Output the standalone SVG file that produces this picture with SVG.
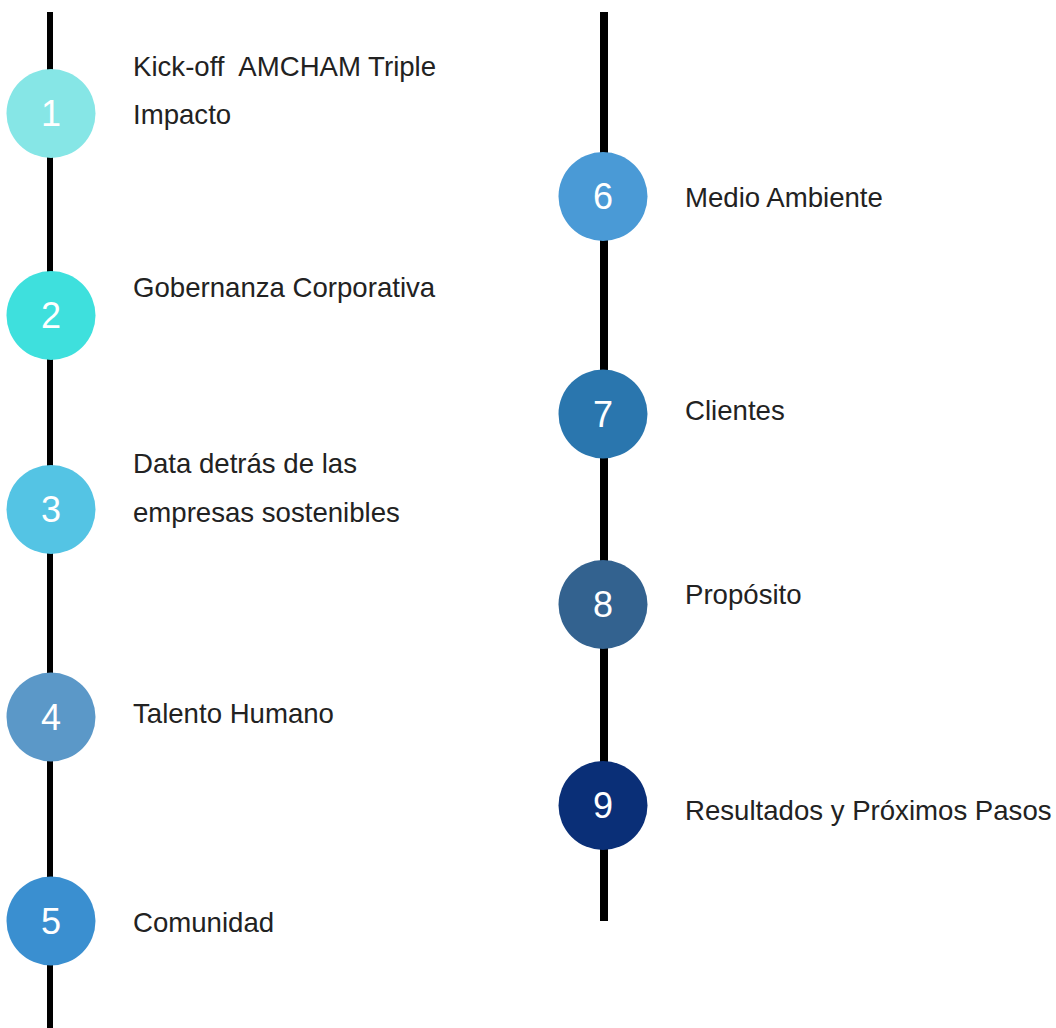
<svg xmlns="http://www.w3.org/2000/svg" width="1056" height="1028" viewBox="0 0 1056 1028">
<style>
.line{stroke:#000;fill:none}
.num{font-family:"Liberation Sans",Arial,sans-serif;font-size:36px;fill:#fff;text-anchor:middle}
.lbl{font-family:"Liberation Sans",Arial,sans-serif;font-size:27.6px;fill:#222;white-space:pre}
</style>
<rect width="1056" height="1028" fill="#fff"/>
<g id="connectors">
<line class="line" x1="50" y1="12" x2="50" y2="1028" stroke-width="6"/>
<line class="line" x1="604" y1="12" x2="604" y2="921" stroke-width="8"/>
</g>
<g id="node1"><circle cx="51" cy="113.5" r="44.5" fill="#86E6E6"/><text class="num" x="51" y="126">1</text><text class="lbl" x="133" y="76" xml:space="preserve">Kick-off  AMCHAM Triple</text><text class="lbl" x="133" y="124">Impacto</text></g>
<g id="node2"><circle cx="51" cy="315.5" r="44.5" fill="#3EE0DD"/><text class="num" x="51" y="328">2</text><text class="lbl" x="133" y="297">Gobernanza Corporativa</text></g>
<g id="node3"><circle cx="51" cy="509.5" r="44.5" fill="#54C4E4"/><text class="num" x="51" y="522">3</text><text class="lbl" x="133" y="473">Data detrás de las</text><text class="lbl" x="133" y="522">empresas sostenibles</text></g>
<g id="node4"><circle cx="51" cy="717" r="44.5" fill="#5B98C8"/><text class="num" x="51" y="730">4</text><text class="lbl" x="133" y="723">Talento Humano</text></g>
<g id="node5"><circle cx="51" cy="921" r="44.5" fill="#3A8FD0"/><text class="num" x="51" y="934">5</text><text class="lbl" x="133" y="932">Comunidad</text></g>
<g id="node6"><circle cx="603" cy="196.5" r="44.5" fill="#4A9AD6"/><text class="num" x="603" y="209">6</text><text class="lbl" x="685" y="207">Medio Ambiente</text></g>
<g id="node7"><circle cx="603" cy="414" r="44.5" fill="#2A76AE"/><text class="num" x="603" y="427">7</text><text class="lbl" x="685" y="420">Clientes</text></g>
<g id="node8"><circle cx="603" cy="604.5" r="44.5" fill="#33628F"/><text class="num" x="603" y="617">8</text><text class="lbl" x="685" y="604">Propósito</text></g>
<g id="node9"><circle cx="603" cy="805.5" r="44.5" fill="#0A2F77"/><text class="num" x="603" y="818">9</text><text class="lbl" x="685" y="820">Resultados y Próximos Pasos</text></g>
</svg>
